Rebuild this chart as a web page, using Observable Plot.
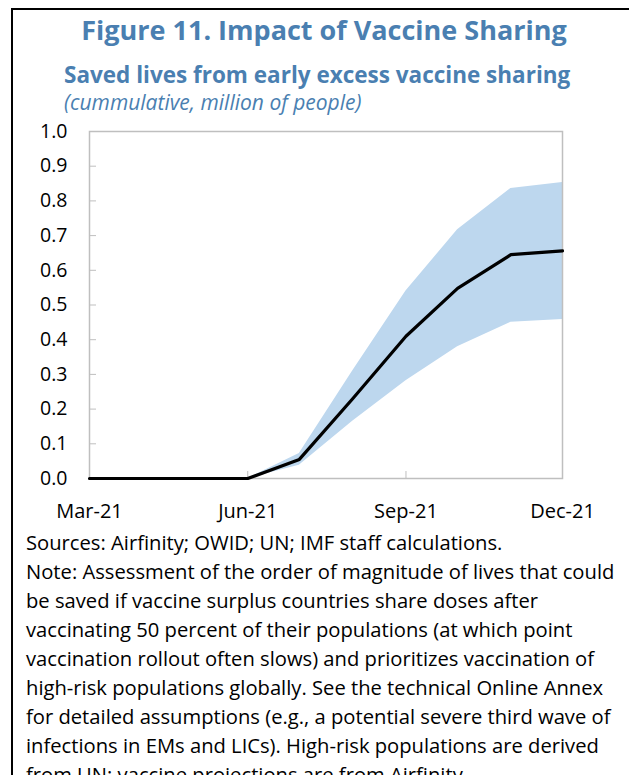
<!DOCTYPE html>
<html>
<head>
<meta charset="utf-8">
<script src="https://cdn.jsdelivr.net/npm/d3@7"></script>
<script src="https://cdn.jsdelivr.net/npm/@observablehq/plot@0.6"></script>
<style>
  html, body { margin: 0; padding: 0; background: #fff; }
  body { width: 629px; height: 775px; position: relative; overflow: hidden; font-family: "Open Sans", sans-serif; }
  .abs { position: absolute; white-space: nowrap; line-height: 1; }
  #title { top: 16px; left: 0; width: 648px; text-align: center; font-size: 27px; font-weight: 700; color: #4a7fb1; }
  #subtitle { top: 64px; left: 64px; font-size: 22.5px; font-weight: 700; color: #4a7fb1; }
  #unit { top: 91.5px; left: 64px; font-size: 21px; font-style: italic; color: #4a7fb1; }
  #notes { position: absolute; top: 527.7px; left: 26px; font-size: 20.2px; line-height: 29px; color: #000; }
  #notes div { white-space: nowrap; }
  #chart { position: absolute; top: 115px; left: 0; }
  .bTop { position: absolute; left: 11px; top: 7.5px; width: 618px; height: 2.5px; background: #000; }
  .bLeft { position: absolute; left: 11px; top: 7.5px; width: 2px; height: 770px; background: #000; }
</style>
</head>
<body>
<div class="bTop"></div>
<div class="bLeft"></div>
<div id="title" class="abs">Figure 11. Impact of Vaccine Sharing</div>
<div id="subtitle" class="abs">Saved lives from early excess vaccine sharing</div>
<div id="unit" class="abs">(cummulative, million of people)</div>
<div id="chart"></div>
<div id="notes"></div>
<script>
// ---- data ----
const months = ["2021-03-01","2021-04-01","2021-05-01","2021-06-01","2021-07-01","2021-08-01","2021-09-01","2021-10-01","2021-11-01","2021-12-01"];
const central = [0, 0, 0, 0, 0.055, 0.23, 0.41, 0.548, 0.645, 0.656];
const lower   = [0, 0, 0, 0, 0.038, 0.165, 0.282, 0.38, 0.45, 0.458];
const upper   = [0, 0, 0, 0, 0.072, 0.31, 0.54, 0.717, 0.836, 0.853];
const xTickLabels = ["2021-03-01","2021-06-01","2021-09-01","2021-12-01"];
const yTickValues = [0, 0.1, 0.2, 0.3, 0.4, 0.5, 0.6, 0.7, 0.8, 0.9, 1.0];
const noteLines = [
  "Sources: Airfinity; OWID; UN; IMF staff calculations.",
  "Note: Assessment of the order of magnitude of lives that could",
  "be saved if vaccine surplus countries share doses after",
  "vaccinating 50 percent of their populations (at which point",
  "vaccination rollout often slows) and prioritizes vaccination of",
  "high-risk populations globally. See the technical Online Annex",
  "for detailed assumptions (e.g., a potential severe third wave of",
  "infections in EMs and LICs). High-risk populations are derived",
  "from UN; vaccine projections are from Airfinity."
];

const data = months.map((m, i) => ({date: new Date(m), mid: central[i], lo: lower[i], hi: upper[i]}));
const xTicks = xTickLabels.map(d => new Date(d));
const innerXTicks = xTicks.slice(1, -1);
const innerYTicks = yTickValues.slice(1, -1);

const W = 629, H = 410, mL = 89, mR = 67, mT = 16, mB = 47;
const plotH = H - mT - mB, plotW = W - mL - mR;
const gray = "#bfbfbf";

const chart = Plot.plot({
  width: W, height: H,
  marginLeft: mL, marginRight: mR, marginTop: mT, marginBottom: mB,
  style: {fontFamily: "Open Sans, sans-serif", fontSize: "19.5px", color: "#000", background: "transparent", overflow: "visible"},
  x: {type: "utc", domain: [xTicks[0], xTicks[xTicks.length - 1]]},
  y: {domain: [0, 1]},
  marks: [
    Plot.areaY(data, {x: "date", y1: "lo", y2: "hi", fill: "#bdd7ee", curve: "linear"}),
    Plot.frame({stroke: gray, strokeWidth: 1.5}),
    Plot.tickX(innerXTicks, {x: d => d, stroke: gray, strokeWidth: 1, insetTop: plotH - 7}),
    Plot.tickY(innerYTicks, {y: d => d, stroke: gray, strokeWidth: 1, insetRight: plotW - 7}),
    Plot.lineY(data, {x: "date", y: "mid", stroke: "#000", strokeWidth: 3.2, curve: "linear"}),
    Plot.axisY({ticks: yTickValues, tickFormat: d3.format(".1f"), tickSize: 0, tickPadding: 22, label: null, fontSize: 19.5}),
    Plot.axisX({ticks: xTicks, tickFormat: d3.utcFormat("%b-%y"), tickSize: 0, tickPadding: 25, label: null, fontSize: 20})
  ]
});
document.getElementById("chart").appendChild(chart);

const notes = document.getElementById("notes");
noteLines.forEach(t => { const d = document.createElement("div"); d.textContent = t; notes.appendChild(d); });
</script>
</body>
</html>
